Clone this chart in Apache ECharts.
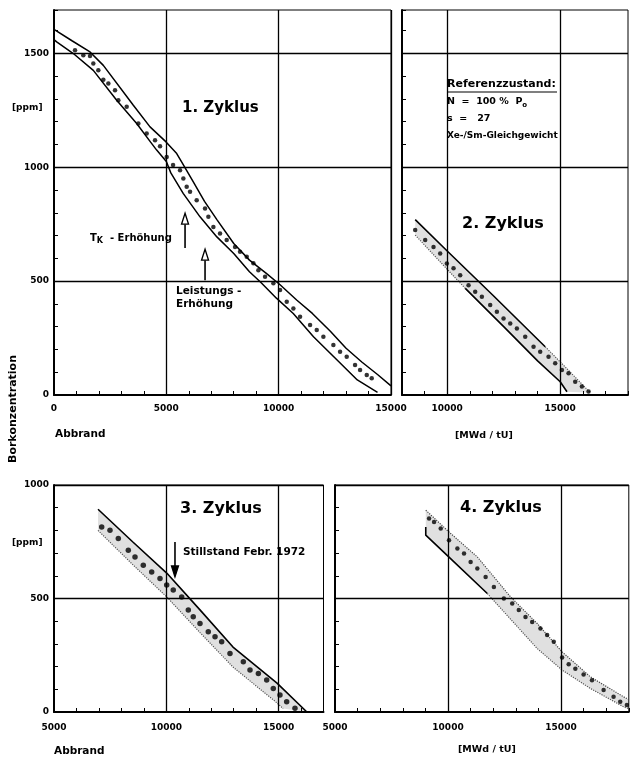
<!DOCTYPE html>
<html><head><meta charset="utf-8">
<script src="https://cdn.jsdelivr.net/npm/echarts@6/dist/echarts.min.js"></script>
<style>html,body{margin:0;padding:0;background:#fff}#c{width:632px;height:763px}</style>
</head><body><div id="c"></div>
<script>
// ---------- data (MWd/tU , ppm) ----------
const c1Upper = [[0,1605],[800,1555],[1603,1506],[2196,1447],[3531,1272],[4274,1177],[4987,1111],[5462,1060],[5700,1020],[6200,935],[6700,850],[7250,770],[8000,665],[8700,592],[9450,534],[10050,485],[10800,417],[11500,358],[12300,280],[13000,205],[13700,145],[14400,90],[15000,40]];
const c1Lower = [[0,1560],[119,1550],[860,1499],[1750,1425],[2790,1294],[3680,1192],[4300,1110],[4570,1075],[5000,1025],[5200,975],[5750,885],[6500,782],[7250,694],[8000,621],[8700,541],[9200,495],[9900,425],[10650,358],[11550,256],[12600,154],[13500,66],[14400,12]];
const c1Meas = [[935,1513],[1305,1491],[1603,1488],[1750,1455],[1973,1425],[2196,1384],[2419,1367],[2716,1338],[2864,1294],[3235,1265],[3754,1192],[4125,1148],[4497,1118],[4720,1092],[5016,1045],[5300,1010],[5610,987],[5758,950],[5906,914],[6055,892],[6351,855],[6723,819],[6871,782],[7093,738],[7390,709],[7687,680],[8058,650],[8281,629],[8578,607],[8875,578],[9097,548],[9394,519],[9765,490],[10062,461],[10359,409],[10655,380],[10952,343],[11397,307],[11694,285],[11990,256],[12436,219],[12733,190],[13029,168],[13400,132],[13623,110],[13920,88],[14142,73]];

const c2Upper = [[8585,770],[10000,632],[12000,440],[14336,212]];
const c2UpperTail = [[14336,212],[15300,115],[16330,10]];
const c2LowerHead = [[8585,702],[10000,552],[10800,468]];
const c2Lower = [[10800,468],[12500,300],[14000,150],[15000,58],[15300,14]];
const c2Meas = [[8584,724],[9027,680],[9395,650],[9690,621],[9985,577],[10280,556],[10575,526],[10944,482],[11239,453],[11534,431],[11903,395],[12198,365],[12493,336],[12788,314],[13083,292],[13452,256],[13820,212],[14115,190],[14484,168],[14779,139],[15075,110],[15370,95],[15664,58],[15959,37],[16254,15]];

const c3Upper = [[6960,893],[8500,750],[10030,611],[11500,450],[12970,286],[14930,127],[16260,0]];
const c3Lower = [[6960,800],[8500,650],[10030,506],[11500,350],[12970,198],[14930,40],[15200,15]];
const c3Meas = [[7124,815],[7493,801],[7864,764],[8309,713],[8607,683],[8976,647],[9350,617],[9720,588],[10018,559],[10310,537],[10686,507],[10980,449],[11200,420],[11500,390],[11870,353],[12170,331],[12466,309],[12836,258],[13430,221],[13727,185],[14100,170],[14470,141],[14764,104],[15062,75],[15360,45],[15730,16]];

const c4Upper = [[9016,889],[10044,793],[11297,683],[12767,507],[13945,390],[15048,265],[16297,155],[17767,67],[18000,55]];
const c4Lower = [[9016,815],[9016,779],[10044,682],[11740,522]];
const c4LowerTail = [[11740,522],[13945,280],[15048,185],[16297,104],[17767,23],[18000,15]];
const c4Meas = [[9162,852],[9383,837],[9678,808],[10044,757],[10415,720],[10709,698],[11002,661],[11297,632],[11665,595],[12030,551],[12471,500],[12842,478],[13133,449],[13430,419],[13725,397],[14090,368],[14386,339],[14680,309],[15048,240],[15340,210],[15635,190],[16000,165],[16372,140],[16885,97],[17326,67],[17620,45],[17915,31]];

// tick labels / grid lines
const x1Ticks = [0,5000,10000,15000];
const x2Ticks = [10000,15000];
const x3Ticks = [5000,10000,15000];
const x4Ticks = [5000,10000,15000];
const yTopTicks = [0,500,1000,1500];
const yBotTicks = [0,500,1000];

// annotation arrows: [grid, x, yFrom, yTip, hollow]
const arrows = [[0,5833,645,798,true],[0,6723,504,640,true],[2,10387,749,595,false]];

const F = '"DejaVu Sans", sans-serif';
const chart = echarts.init(document.getElementById('c'), null, {renderer:'canvas'});

const grids = [
  {left:54, top:10, width:337, height:385},
  {left:402, top:10, width:226, height:385},
  {left:54, top:485, width:269.5, height:227},
  {left:335, top:485, width:293.8, height:227}
].map(g => Object.assign(g, {show:true, borderColor:'#000', borderWidth:1, backgroundColor:'transparent'}));

function xAx(gi, min, max, majors, margin) {
  return {type:'value', gridIndex:gi, min, max, interval:1000,
    axisLine:{show:true, onZero:false, lineStyle:{color:'#000', width:2}},
    axisTick:{show:true, inside:true, length:4, lineStyle:{color:'#000', width:1}},
    splitLine:{show:false},
    axisLabel:{show:true, margin, color:'#000', fontFamily:F, fontWeight:'bold', fontSize:9,
      formatter: v => majors.includes(v) ? String(v) : ''}};
}
function yAx(gi, min, max, majors, showLabel) {
  return {type:'value', gridIndex:gi, min, max, interval:100,
    axisLine:{show:true, onZero:false, lineStyle:{color:'#000', width:2}},
    axisTick:{show:true, inside:true, length:4, lineStyle:{color:'#000', width:1}},
    splitLine:{show:false},
    axisLabel:{show:showLabel, margin:5, color:'#000', fontFamily:F, fontWeight:'bold', fontSize:9,
      formatter: v => majors.includes(v) ? String(v) : ''}};
}
function gridLines(gi, xs, ys, x0, y0) {
  return {type:'line', xAxisIndex:gi, yAxisIndex:gi, data:[[x0,y0]], showSymbol:false, symbol:'none', silent:true, animation:false,
    lineStyle:{opacity:0},
    markLine:{silent:true, symbol:['none','none'], animation:false, label:{show:false},
      lineStyle:{color:'#000', width:1.3, type:'solid'},
      data: xs.filter(v=>v!==x0).map(v=>({xAxis:v})).concat(ys.filter(v=>v!==0).map(v=>({yAxis:v})))}};
}
function lineS(gi, data, color, width, type) {
  return {type:'line', xAxisIndex:gi, yAxisIndex:gi, data, showSymbol:false, symbol:'none', silent:true, animation:false, z:3,
    lineStyle:{color, width, type}};
}
function dots(gi, data, size) {
  return {type:'scatter', xAxisIndex:gi, yAxisIndex:gi, data, symbolSize:size, silent:true, animation:false, z:4, itemStyle:{color:'#000'}};
}
function band(gi, upper, lower) {
  return {type:'custom', xAxisIndex:gi, yAxisIndex:gi, silent:true, animation:false, z:1,
    data:[upper[0]],
    renderItem:(params, api) => {
      const pts = upper.concat(lower.slice().reverse()).map(p => api.coord(p));
      return {type:'polygon', shape:{points:pts}, style:{fill:'rgba(0,0,0,0.12)'}};
    }};
}

const option = {
  animation:false,
  grid: grids,
  xAxis: [xAx(0,0,15000,x1Ticks,9), xAx(1,8000,18000,x2Ticks,9), xAx(2,5000,17000,x3Ticks,11), xAx(3,5000,18000,x4Ticks,11)],
  yAxis: [yAx(0,0,1690,yTopTicks,true), yAx(1,0,1690,yTopTicks,false), yAx(2,0,1000,yBotTicks,true), yAx(3,0,1000,yBotTicks,false)],
  series: [
    gridLines(0,x1Ticks,yTopTicks,0,0),
    gridLines(1,x2Ticks,yTopTicks,8000,0),
    gridLines(2,x3Ticks,yBotTicks,5000,0),
    gridLines(3,x4Ticks,yBotTicks,5000,0),
    lineS(0,c1Upper,'#000',1.5,'solid'),
    lineS(0,c1Lower,'#000',1.5,'solid'),
    dots(0,c1Meas,4.5),
    band(1,c2Upper.concat(c2UpperTail),c2LowerHead.concat(c2Lower)),
    lineS(1,c2Upper,'#000',1.6,'solid'),
    lineS(1,c2UpperTail,'#555',1.2,'dotted'),
    lineS(1,c2LowerHead,'#555',1.2,'dotted'),
    lineS(1,c2Lower,'#000',1.6,'solid'),
    dots(1,c2Meas,4.5),
    band(2,c3Upper,c3Lower),
    lineS(2,c3Upper,'#000',1.6,'solid'),
    lineS(2,c3Lower,'#555',1.2,'dotted'),
    dots(2,c3Meas,5.5),
    band(3,c4Upper,c4Lower.concat(c4LowerTail)),
    lineS(3,c4Upper,'#444',1.2,'dotted'),
    lineS(3,c4Lower,'#000',1.6,'solid'),
    lineS(3,c4LowerTail,'#555',1.2,'dotted'),
    dots(3,c4Meas,4.5)
  ]
};
chart.setOption(option);

// ---------- texts & arrows ----------
function txt(x, y, text, size, opts) {
  return Object.assign({type:'text', left:x, top:y, silent:true,
    style:{text, fill:'#000', font:'bold ' + size + 'px ' + F}}, opts || {});
}
const g = [
  txt(182, 101, '1. Zyklus', 15),
  txt(462, 216, '2. Zyklus', 16),
  txt(180, 501, '3. Zyklus', 16),
  txt(460, 500, '4. Zyklus', 16),
  txt(183, 547, 'Stillstand Febr. 1972', 10.5),
  txt(447, 79, 'Referenzzustand:', 11),
  {type:'line', silent:true, shape:{x1:447, y1:92, x2:557, y2:92}, style:{stroke:'#000', lineWidth:1.2}},
  {type:'text', left:447, top:97, silent:true, style:{rich:{a:{font:'bold 9.5px '+F, fill:'#000'}, s:{font:'bold 7px '+F, fill:'#000', padding:[6,0,0,0]}}, text:'{a|N  =  100 %  P}{s|o}'}},
  txt(447, 114, 's  =   27', 9.5),
  txt(447, 131, 'Xe-/Sm-Gleichgewicht', 9),
  {type:'text', left:90, top:233, silent:true, style:{rich:{a:{font:'bold 10px '+F, fill:'#000'}, s:{font:'bold 8px '+F, fill:'#000', padding:[6,0,0,0]}}, text:'{a|T}{s|K}{a|  - Erhöhung}'}},
  txt(176, 286, 'Leistungs -', 10.5),
  txt(176, 299, 'Erhöhung', 10.5),
  txt(12, 103, '[ppm]', 9),
  txt(12, 538, '[ppm]', 9),
  {type:'text', x:8, y:463, rotation:Math.PI/2, silent:true, style:{text:'Borkonzentration', fill:'#000', font:'bold 11px '+F}},
  txt(55, 429, 'Abbrand', 10.5),
  txt(54, 746, 'Abbrand', 10.5),
  txt(455, 431, '[MWd / tU]', 9.5),
  txt(458, 745, '[MWd / tU]', 9.5)
];
arrows.forEach(a => {
  const [gi, x, y0, y1, hollow] = a;
  const p0 = chart.convertToPixel({gridIndex:gi}, [x, y0]);
  const p1 = chart.convertToPixel({gridIndex:gi}, [x, y1]);
  const dir = p1[1] < p0[1] ? 1 : -1;
  const hb = p1[1] + dir * 11;
  g.push({type:'line', silent:true, shape:{x1:p0[0], y1:p0[1], x2:p0[0], y2:hb}, style:{stroke:'#000', lineWidth:1.6}});
  g.push({type:'polygon', silent:true, shape:{points:[[p1[0],p1[1]],[p1[0]-3.5,hb],[p1[0]+3.5,hb]]},
    style:{fill: hollow ? '#fff' : '#000', stroke:'#000', lineWidth:1.3}});
});
chart.setOption({graphic: g});
</script></body></html>
